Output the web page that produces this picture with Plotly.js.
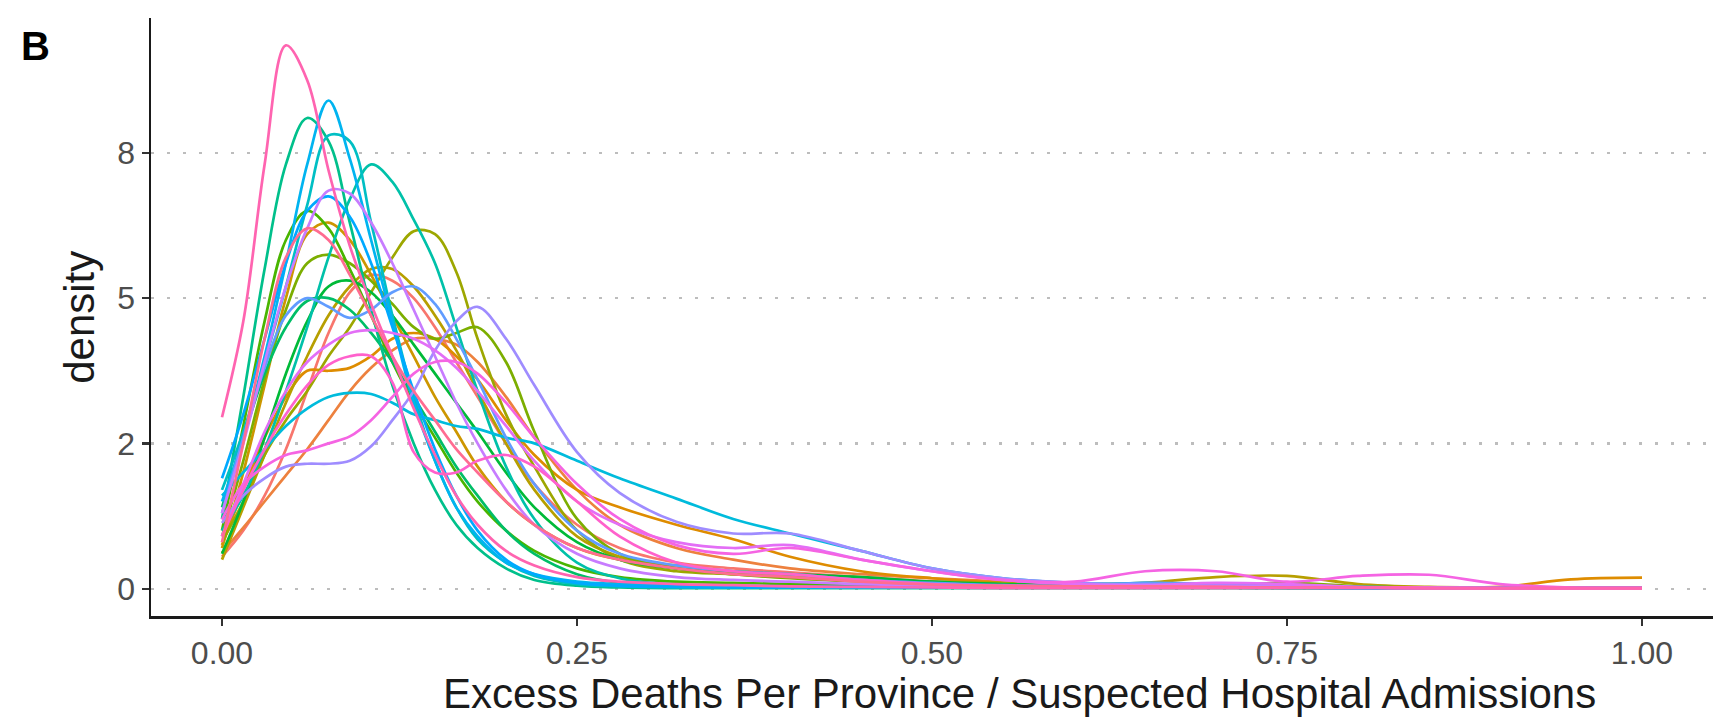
<!DOCTYPE html>
<html>
<head>
<meta charset="utf-8">
<script src="https://cdn.plot.ly/plotly-3.0.1.min.js"></script>
<style>html,body{margin:0;padding:0;background:#fff;}#chart{width:1721px;height:722px;}</style>
</head>
<body>
<div id="chart"></div>
<script>
// ---- shared x grid (ratio of excess deaths to suspected admissions) ----
const xGrid = [0, 0.015, 0.03, 0.045, 0.06, 0.075, 0.09, 0.105, 0.12, 0.135, 0.15, 0.165, 0.18, 0.2, 0.22, 0.25, 0.28, 0.32, 0.36, 0.4, 0.45, 0.5, 0.55, 0.6, 0.65, 0.7, 0.75, 0.8, 0.85, 0.9, 0.95, 1.0];

// ---- density values per group ----
const g01 = [0.55, 1.0, 1.6, 2.4, 3.4, 4.4, 5.1, 5.4, 5.3, 5.0, 4.5, 3.9, 3.3, 2.5, 1.8, 1.1, 0.7, 0.45, 0.35, 0.28, 0.2, 0.12, 0.08, 0.05, 0.04, 0.03, 0.02, 0.02, 0.01, 0.01, 0.01, 0.01];
const g02 = [0.62, 1.05, 1.5, 1.95, 2.4, 2.9, 3.4, 3.8, 4.1, 4.3, 4.3, 4.2, 3.9, 3.3, 2.6, 1.7, 1.1, 0.7, 0.5, 0.35, 0.25, 0.18, 0.12, 0.08, 0.05, 0.04, 0.03, 0.02, 0.02, 0.01, 0.01, 0.01];
const g03 = [0.75, 1.7, 2.6, 3.3, 3.75, 3.75, 3.8, 4.0, 4.3, 4.4, 4.3, 4.0, 3.6, 2.9, 2.3, 1.7, 1.4, 1.1, 0.85, 0.55, 0.3, 0.18, 0.1, 0.05, 0.04, 0.03, 0.05, 0.03, 0.02, 0.03, 0.16, 0.19];
const g04 = [0.7, 2.0, 3.5, 5.0, 6.1, 6.3, 6.0, 5.4, 4.7, 4.0, 3.3, 2.7, 2.1, 1.5, 1.1, 0.7, 0.5, 0.4, 0.3, 0.25, 0.15, 0.1, 0.06, 0.05, 0.05, 0.04, 0.03, 0.02, 0.02, 0.01, 0.01, 0.01];
const g05 = [0.5, 1.4, 2.3, 3.2, 4.0, 4.7, 5.2, 5.5, 5.5, 5.2, 4.7, 4.1, 3.4, 2.5, 1.7, 0.9, 0.55, 0.35, 0.25, 0.2, 0.15, 0.12, 0.1, 0.08, 0.1, 0.2, 0.22, 0.08, 0.03, 0.02, 0.01, 0.01];
const g06 = [0.8, 1.5, 2.3, 2.9, 3.4, 4.0, 4.5, 5.1, 5.7, 6.15, 6.1, 5.45, 4.3, 3.0, 2.1, 1.0, 0.5, 0.3, 0.25, 0.2, 0.15, 0.1, 0.08, 0.07, 0.06, 0.05, 0.04, 0.03, 0.02, 0.02, 0.01, 0.01];
const g07 = [0.9, 2.2, 3.6, 4.8, 5.6, 5.75, 5.6, 5.3, 4.9, 4.5, 4.3, 4.4, 4.5, 3.9, 2.7, 1.2, 0.6, 0.35, 0.25, 0.18, 0.12, 0.08, 0.06, 0.05, 0.05, 0.06, 0.1, 0.04, 0.02, 0.01, 0.01, 0.01];
const g08 = [1.0, 2.8, 4.6, 6.0, 6.5, 6.2, 5.5, 4.7, 3.9, 3.2, 2.6, 2.0, 1.5, 1.0, 0.65, 0.35, 0.2, 0.12, 0.1, 0.08, 0.06, 0.05, 0.04, 0.03, 0.03, 0.04, 0.05, 0.03, 0.02, 0.01, 0.01, 0.01];
const g09 = [0.6, 1.5, 2.6, 3.7, 4.6, 5.2, 5.3, 5.1, 4.7, 4.2, 3.7, 3.2, 2.7, 2.0, 1.4, 0.8, 0.5, 0.35, 0.3, 0.25, 0.2, 0.12, 0.08, 0.06, 0.05, 0.04, 0.03, 0.02, 0.02, 0.01, 0.01, 0.01];
const g10 = [1.4, 2.6, 3.7, 4.5, 4.95, 5.0, 4.8, 4.4, 3.9, 3.3, 2.7, 2.1, 1.6, 1.0, 0.6, 0.25, 0.1, 0.05, 0.04, 0.04, 0.03, 0.02, 0.02, 0.02, 0.03, 0.02, 0.01, 0.01, 0.01, 0.01, 0.01, 0.01];
const g11 = [1.2, 3.3, 5.5, 7.3, 8.1, 7.7, 6.3, 4.8, 3.5, 2.5, 1.7, 1.1, 0.7, 0.35, 0.15, 0.05, 0.02, 0.01, 0.01, 0.01, 0.01, 0.01, 0.01, 0.01, 0.01, 0.01, 0.01, 0.01, 0.01, 0.01, 0.01, 0.01];
const g12 = [1.0, 1.6, 2.4, 3.4, 4.5, 5.7, 6.7, 7.3, 7.0, 6.35, 5.6, 4.5, 3.4, 2.1, 1.2, 0.45, 0.18, 0.07, 0.04, 0.03, 0.02, 0.02, 0.02, 0.02, 0.03, 0.02, 0.01, 0.01, 0.01, 0.01, 0.01, 0.01];
const g13 = [1.7, 2.7, 3.9, 5.2, 6.6, 7.8, 7.7, 6.3, 4.7, 3.3, 2.2, 1.4, 0.85, 0.45, 0.22, 0.08, 0.04, 0.02, 0.02, 0.02, 0.02, 0.02, 0.03, 0.04, 0.1, 0.05, 0.02, 0.01, 0.01, 0.01, 0.01, 0.01];
const g14 = [1.6, 2.0, 2.4, 2.8, 3.1, 3.3, 3.37, 3.35, 3.2, 3.0, 2.9, 2.8, 2.75, 2.6, 2.5, 2.2, 1.9, 1.55, 1.2, 0.95, 0.65, 0.35, 0.18, 0.1, 0.08, 0.06, 0.04, 0.03, 0.02, 0.01, 0.01, 0.01];
const g15 = [1.5, 2.6, 4.0, 5.6, 7.3, 8.4, 7.4, 6.0, 4.6, 3.2, 2.2, 1.4, 0.9, 0.45, 0.25, 0.12, 0.08, 0.06, 0.05, 0.04, 0.03, 0.02, 0.02, 0.03, 0.06, 0.03, 0.02, 0.01, 0.01, 0.01, 0.01, 0.01];
const g16 = [1.9, 3.0, 4.3, 5.6, 6.5, 6.75, 6.4, 5.6, 4.5, 3.4, 2.4, 1.6, 1.0, 0.5, 0.25, 0.1, 0.05, 0.03, 0.02, 0.02, 0.02, 0.02, 0.02, 0.03, 0.05, 0.03, 0.02, 0.01, 0.01, 0.01, 0.01, 0.01];
const g17 = [1.3, 2.6, 3.8, 4.7, 5.0, 4.85, 4.66, 4.8, 5.1, 5.2, 4.9, 4.3, 3.6, 2.6, 1.8, 1.0, 0.6, 0.4, 0.3, 0.25, 0.15, 0.1, 0.06, 0.05, 0.1, 0.08, 0.04, 0.02, 0.01, 0.01, 0.01, 0.01];
const g18 = [1.13, 1.6, 1.9, 2.1, 2.15, 2.15, 2.2, 2.45, 2.9, 3.4, 4.1, 4.6, 4.85, 4.3, 3.5, 2.35, 1.65, 1.15, 0.95, 0.95, 0.65, 0.35, 0.18, 0.1, 0.07, 0.05, 0.03, 0.02, 0.02, 0.01, 0.01, 0.01];
const g19 = [1.3, 2.5, 3.9, 5.2, 6.2, 6.85, 6.8, 6.3, 5.6, 4.8, 4.0, 3.2, 2.5, 1.7, 1.1, 0.6, 0.35, 0.2, 0.15, 0.12, 0.08, 0.05, 0.04, 0.03, 0.03, 0.05, 0.04, 0.02, 0.01, 0.01, 0.01, 0.01];
const g20 = [0.9, 1.8, 2.7, 3.4, 3.9, 4.2, 4.4, 4.45, 4.4, 4.3, 4.1, 3.8, 3.4, 2.8, 2.2, 1.5, 1.1, 0.8, 0.7, 0.75, 0.5, 0.3, 0.15, 0.08, 0.06, 0.1, 0.08, 0.03, 0.02, 0.01, 0.01, 0.01];
const g21 = [1.19, 1.8, 2.1, 2.3, 2.38, 2.5, 2.62, 2.9, 3.3, 3.7, 3.9, 3.9, 3.7, 3.2, 2.6, 1.8, 1.2, 0.75, 0.6, 0.7, 0.5, 0.3, 0.15, 0.12, 0.3, 0.3, 0.12, 0.22, 0.24, 0.08, 0.02, 0.01];
const g22 = [0.9, 1.7, 2.4, 3.0, 3.5, 3.85, 4.0, 4.0, 3.55, 2.35, 2.0, 2.0, 2.2, 2.3, 2.1, 1.5, 0.9, 0.45, 0.3, 0.25, 0.15, 0.08, 0.05, 0.04, 0.03, 0.03, 0.02, 0.02, 0.01, 0.01, 0.01, 0.01];
const g23 = [2.95, 4.6, 7.3, 9.35, 8.75, 7.2, 5.9, 4.9, 4.0, 3.1, 2.3, 1.6, 1.1, 0.65, 0.4, 0.2, 0.12, 0.08, 0.06, 0.04, 0.03, 0.02, 0.01, 0.01, 0.01, 0.01, 0.01, 0.01, 0.01, 0.01, 0.01, 0.01];
const g24 = [0.8, 2.5, 4.3, 5.7, 6.2, 6.0, 5.4, 4.7, 4.0, 3.4, 2.9, 2.4, 2.0, 1.5, 1.1, 0.7, 0.5, 0.35, 0.25, 0.2, 0.12, 0.07, 0.05, 0.04, 0.04, 0.03, 0.02, 0.02, 0.01, 0.01, 0.01, 0.01];

const groups = [g01, g02, g03, g04, g05, g06, g07, g08, g09, g10, g11, g12, g13, g14, g15, g16, g17, g18, g19, g20, g21, g22, g23, g24];

// ---- axis ticks ----
const xTickVals = [0, 0.25, 0.5, 0.75, 1.0];
const xTickText = ["0.00", "0.25", "0.50", "0.75", "1.00"];
const yTickVals = [0, 2.5, 5, 7.5];
const yTickText = ["0", "2", "5", "8"];

const xTitle = "Excess Deaths Per Province / Suspected Hospital Admissions";
const yTitle = "density";
const panelTag = "B";

// ggplot-like hue palette (HCL, c=100, l=65)
function hcl2hex(h, c, l) {
  const hr = h * Math.PI / 180;
  const U = c * Math.cos(hr), V = c * Math.sin(hr);
  const Xn = 95.047, Yn = 100, Zn = 108.883;
  const Y = l > 8 ? Yn * Math.pow((l + 16) / 116, 3) : Yn * l / 903.3;
  const un = 4 * Xn / (Xn + 15 * Yn + 3 * Zn), vn = 9 * Yn / (Xn + 15 * Yn + 3 * Zn);
  const u = U / (13 * l) + un, v = V / (13 * l) + vn;
  const X = 9 * Y * u / (4 * v);
  const Z = -X / 3 - 5 * Y + 3 * Y / v;
  const x = X / 100, y = Y / 100, z = Z / 100;
  let rgb = [
    3.240479 * x - 1.537150 * y - 0.498535 * z,
    -0.969256 * x + 1.875992 * y + 0.041556 * z,
    0.055648 * x - 0.204043 * y + 1.057311 * z
  ];
  rgb = rgb.map(t => {
    t = t <= 0.0031308 ? 12.92 * t : 1.055 * Math.pow(t, 1 / 2.4) - 0.055;
    t = Math.max(0, Math.min(1, t));
    return Math.round(t * 255).toString(16).padStart(2, "0");
  });
  return "#" + rgb.join("");
}
const n = groups.length;
const colors = groups.map((_, i) => hcl2hex(15 + (360 / n) * i, 100, 65));

// draw order: level order, tallest pink last (on top)
const order = [];
for (let i = 0; i < n; i++) if (i !== 22) order.push(i);
order.push(22);

const traces = order.map(i => ({
  type: "scatter",
  mode: "lines",
  x: xGrid,
  y: groups[i],
  line: { color: colors[i], width: 2.7, shape: "spline", smoothing: 1 },
  hoverinfo: "skip",
  showlegend: false
}));

const font = "Liberation Sans, Arial, Helvetica, sans-serif";
const layout = {
  width: 1721,
  height: 722,
  margin: { l: 151, r: 8, t: 18, b: 106 },
  paper_bgcolor: "#ffffff",
  plot_bgcolor: "#ffffff",
  showlegend: false,
  font: { family: font },
  xaxis: {
    range: [-0.05, 1.05],
    showgrid: false,
    zeroline: false,
    showline: true,
    linecolor: "#1a1a1a",
    linewidth: 2.5,
    ticks: "outside",
    ticklen: 7,
    tickwidth: 2.2,
    tickcolor: "#333333",
    tickvals: xTickVals,
    ticktext: xTickText,
    tickfont: { family: font, size: 32, color: "#4d4d4d" }
  },
  yaxis: {
    range: [-0.47, 9.82],
    showgrid: true,
    gridcolor: "#bdbdbd",
    gridwidth: 2.2,
    griddash: "3px,13px",
    zeroline: false,
    showline: true,
    linecolor: "#1a1a1a",
    linewidth: 2.5,
    ticks: "outside",
    ticklen: 7,
    tickwidth: 2.2,
    tickcolor: "#333333",
    tickvals: yTickVals,
    ticktext: yTickText,
    tickfont: { family: font, size: 32, color: "#4d4d4d" }
  },
  annotations: [
    { text: xTitle, xref: "paper", yref: "paper", x: 0.556, y: -0.13, xanchor: "center", yanchor: "middle",
      showarrow: false, font: { family: font, size: 42, color: "#1a1a1a" } },
    { text: yTitle, xref: "paper", yref: "paper", x: -0.0462, y: 0.5, xanchor: "center", yanchor: "middle",
      textangle: -90, showarrow: false, font: { family: font, size: 42, color: "#1a1a1a" } },
    { text: "<b>" + panelTag + "</b>", xref: "paper", yref: "paper", x: -0.074, y: 0.954, xanchor: "center", yanchor: "middle",
      showarrow: false, font: { family: font, size: 40, color: "#000000" } }
  ]
};

Plotly.newPlot("chart", traces, layout, { staticPlot: true, displayModeBar: false });
</script>
</body>
</html>
